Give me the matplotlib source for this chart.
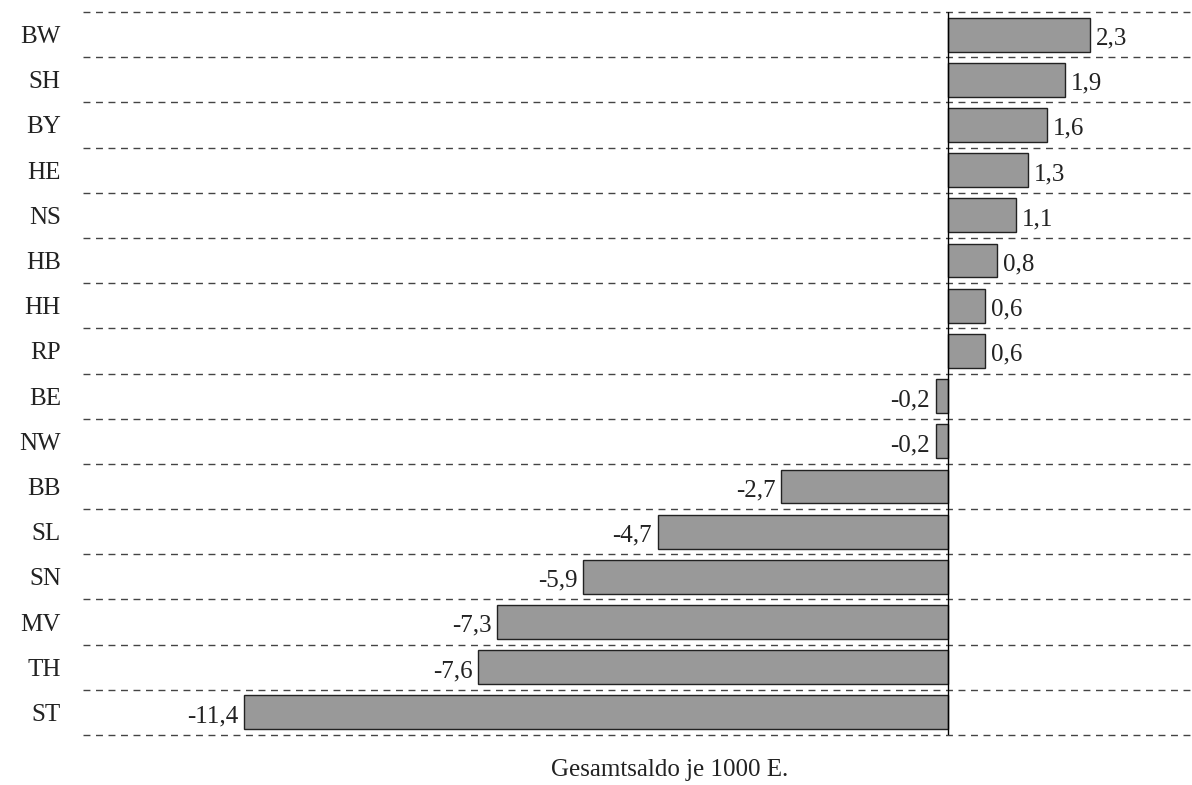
import matplotlib
matplotlib.use('Agg')
import matplotlib.pyplot as plt
import numpy as np

labels = ['BW', 'SH', 'BY', 'HE', 'NS', 'HB', 'HH', 'RP',
          'BE', 'NW', 'BB', 'SL', 'SN', 'MV', 'TH', 'ST']
values = [2.3, 1.9, 1.6, 1.3, 1.1, 0.8, 0.6, 0.6,
          -0.2, -0.2, -2.7, -4.7, -5.9, -7.3, -7.6, -11.4]
value_text = ['2,3', '1,9', '1,6', '1,3', '1,1', '0,8', '0,6', '0,6',
              '-0,2', '-0,2', '-2,7', '-4,7', '-5,9', '-7,3', '-7,6', '-11,4']

plt.rcParams['font.family'] = ['Liberation Serif', 'DejaVu Serif']

fig = plt.figure(figsize=(11.92, 7.85), dpi=100)
W, H = 1192, 785
ax = fig.add_axes([83 / W, 50 / H, (1257 - 83) / W, (735 - 12) / H])

n = len(labels)
y = np.arange(n)
ax.barh(y, values, height=0.75, color='#999999', edgecolor='#222222', linewidth=1, zorder=3)

for yi, v, t in zip(y, values, value_text):
    if v >= 0:
        ax.annotate(t, (v, yi), xytext=(4, -1), textcoords='offset points',
                    ha='left', va='center_baseline', fontsize=18, color='#222222')
    else:
        ax.annotate(t, (v, yi), xytext=(-4, -1), textcoords='offset points',
                    ha='right', va='center_baseline', fontsize=18, color='#222222')

ax.set_xlim(-14, 5)
ax.set_ylim(n - 0.5, -0.5)
ax.set_yticks(y)
ax.set_yticklabels(labels, fontsize=18, color='#222222')
ax.set_yticks(np.arange(-0.5, n, 1), minor=True)
ax.tick_params(axis='y', which='both', length=0, pad=16)
ax.set_xticks([])
ax.grid(which='minor', axis='y', linestyle=(0, (5, 4)), color='#444444', linewidth=1, zorder=0)
for t in ax.yaxis.get_minor_ticks():
    t.gridline.set_clip_on(False)

for s in ax.spines.values():
    s.set_visible(False)
ax.axvline(0, color='black', linewidth=1, zorder=4)

fig.text(670 / W, 1 - 770 / H, 'Gesamtsaldo je 1000 E.', ha='center', va='center', fontsize=18,
         color='#222222')

fig.savefig('out.png', dpi=100)
